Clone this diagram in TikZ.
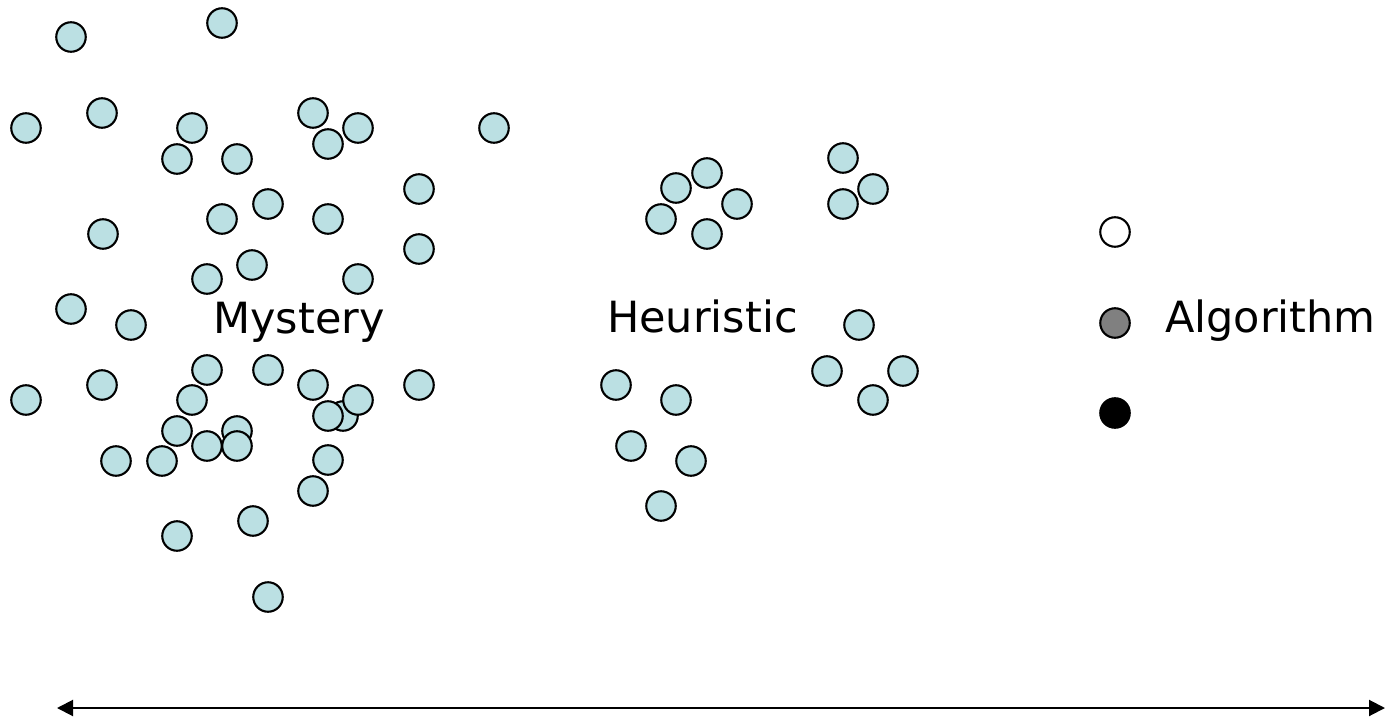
\documentclass[tikz,border=0pt]{standalone}
\usepackage{fontspec}
\setmainfont{DejaVu Sans}
\usetikzlibrary{arrows.meta}

\definecolor{dotblue}{HTML}{BBE0E3}
\definecolor{dotgray}{HTML}{808080}

\begin{document}
\begin{tikzpicture}[x=1pt, y=-1pt, >={Triangle[length=16pt,width=16pt]},
	every dot/.style={circle, draw, line width=2.1pt, fill=dotblue, minimum size=29.5pt, inner sep=0pt},
	every label/.style={font=\fontsize{43}{50}\selectfont, anchor=base west, inner sep=0pt}]
	\useasboundingbox (0,0) rectangle (1386,722);
	
	\foreach \px/\py [count=\i] in {71/37, 222/23, 26/128, 102/113, 192/128, 177/159, 237/159,
		313/113, 328/144, 358/128, 494/128, 419/189, 268/204, 222/219, 328/219, 103/234,
		419/249, 252/265, 207/279, 358/279, 71/309, 131/325, 207/370, 268/370, 313/385,
		419/385, 102/385, 26/400, 192/400, 343/416, 358/400, 328/416, 237/431, 177/431,
		207/446, 237/446, 116/461, 162/461, 328/460, 313/491, 253/521, 177/536, 268/597}
	\node [every dot/.try] (mystery-\i) at (\px,\py) {};
	
	\foreach \px/\py [count=\i] in {676/188, 707/173, 737/204, 661/219, 707/234,
		843/158, 873/189, 843/204, 859/325, 827/371, 903/371, 873/400,
		616/385, 676/400, 631/446, 691/461, 661/506}
	\node [every dot/.try] (heuristic-\i) at (\px,\py) {};
	
	\foreach \c/\py [count=\i] in {white/232, dotgray/323, black/413}
	\node [every dot/.try, fill=\c] (algorithm-\i) at (1115,\py) {};
	
	\node [every label/.try] (mystery) at (213,333) {Mystery};
	\node [every label/.try] (heuristic) at (607,332) {Heuristic};
	\node [every label/.try] (algorithm) at (1165,332) {Algorithm};
	
	\coordinate (scale-l) at (57,708);
	\coordinate (scale-r) at (1385,708);
	\draw [<->, line width=2pt] (scale-l) -- (scale-r);
\end{tikzpicture}
\end{document}
